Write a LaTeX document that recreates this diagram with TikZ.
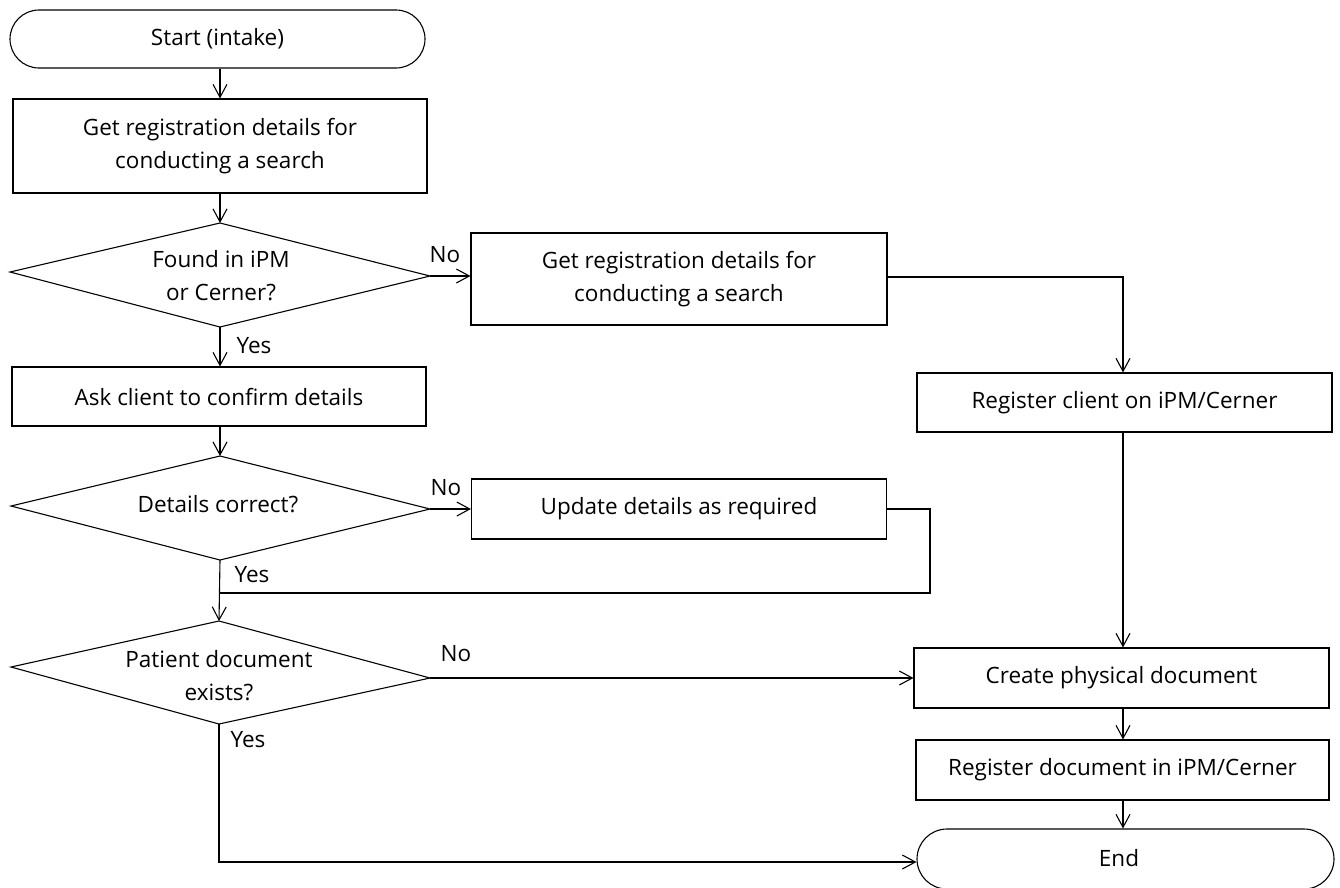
\documentclass[tikz,border=0pt]{standalone}
\usepackage{fontspec}
\setmainfont{Open Sans}
\usetikzlibrary{arrows.meta}
\begin{document}
\begin{tikzpicture}[x=1pt,y=-1pt,
  every node/.style={font=\fontsize{22.5}{33}\selectfont, align=center, inner sep=0pt},
  lw/.style={line width=1.1pt},
  procbox/.style={draw, lw, rectangle, minimum width=#1, anchor=center},
  arr/.style={lw, -{Straight Barb[length=13pt,width=14pt,line width=1.1pt]}},
  lbl/.style={font=\fontsize{22.5}{26}\selectfont}
]
\useasboundingbox (0,0) rectangle (1340,887);

% terminals
\node[draw, lw, rounded corners=29pt, minimum width=415pt, minimum height=58pt] (start) at (217.5,39) {Start (intake)};
\node[draw, lw, rounded corners=30pt, minimum width=417pt, minimum height=60pt] (endn) at (1125.5,859) {};
\node at (1119,858) {End};

% boxes
\node[procbox=414pt, minimum height=94pt] (box1) at (220,146) {Get registration details for\\conducting a search};
\node[procbox=416pt, minimum height=92pt] (box2) at (679,279) {Get registration details for\\conducting a search};
\node[procbox=415pt, minimum height=59pt] (box3) at (1124.5,402.5) {Register client on iPM/Cerner};
\node[procbox=414pt, minimum height=59pt] (box4) at (219,396.5) {Ask client to confirm details};
\node[procbox=415pt, minimum height=60pt] (box5) at (679,509) {Update details as required};
\node[procbox=415pt, minimum height=60pt] (box6) at (1121.5,678) {Create physical document};
\node[procbox=413pt, minimum height=60pt] (box7) at (1122.5,770) {Register document in iPM/Cerner};

% diamonds
\coordinate (d1l) at (10,272); \coordinate (d1t) at (220,223);
\coordinate (d1r) at (430,276); \coordinate (d1b) at (220,327);
\draw[lw] (d1l) -- (d1t) -- (d1r) -- (d1b) -- cycle;
\node (d1) at (221,276) {Found in iPM\\or Cerner?};

\coordinate (d2l) at (11,506); \coordinate (d2t) at (220,456);
\coordinate (d2r) at (430,509); \coordinate (d2b) at (220,560);
\draw[lw] (d2l) -- (d2t) -- (d2r) -- (d2b) -- cycle;
\node (d2) at (218,504) {Details correct?};

\coordinate (d3l) at (11,667); \coordinate (d3t) at (219,621);
\coordinate (d3r) at (430,678); \coordinate (d3b) at (219,724);
\draw[lw] (d3l) -- (d3t) -- (d3r) -- (d3b) -- cycle;
\node (d3) at (219,676) {Patient document\\exists?};

% labels
\node[lbl] (no1) at (445,255) {No};
\node[lbl] (yes1) at (254,346) {Yes};
\node[lbl] (no2) at (446,488) {No};
\node[lbl] (yes2) at (252,575) {Yes};
\node[lbl] (no3) at (456,654) {No};
\node[lbl] (yes3) at (248,740) {Yes};

% connectors
\draw[arr] (start.south -| box1.north) -- (box1.north);
\draw[arr] (box1.south -| d1t) -- (d1t);
\draw[arr] (d1r) -- (d1r -| box2.west);
\coordinate (c1) at (1123,277);
\draw[arr] (box2.east |- c1) -- (c1) -- (c1 |- box3.north);
\draw[arr] (d1b) -- (d1b |- box4.north);
\draw[arr] (box4.south -| d2t) -- (d2t);
\draw[arr] (d2r) -- (d2r -| box5.west);
\coordinate (m1) at (930,509);
\coordinate (m2) at (930,593);
\draw[lw] (box5.east |- m1) -- (m1) -- (m2) -- (m2 -| d2b);
\draw[arr] (d2b) -- (d3t);
\draw[arr] (d3r) -- (d3r -| box6.west);
\draw[arr] (box3.south -| 1123,0) -- (box6.north -| 1123,0);
\draw[arr] (box6.south -| 1123,0) -- (box7.north -| 1123,0);
\draw[arr] (box7.south -| 1123,0) -- (endn.north -| 1123,0);
\coordinate (e1) at (219,862);
\draw[arr] (d3b) -- (e1) -- (e1 -| endn.west);
\end{tikzpicture}
\end{document}
